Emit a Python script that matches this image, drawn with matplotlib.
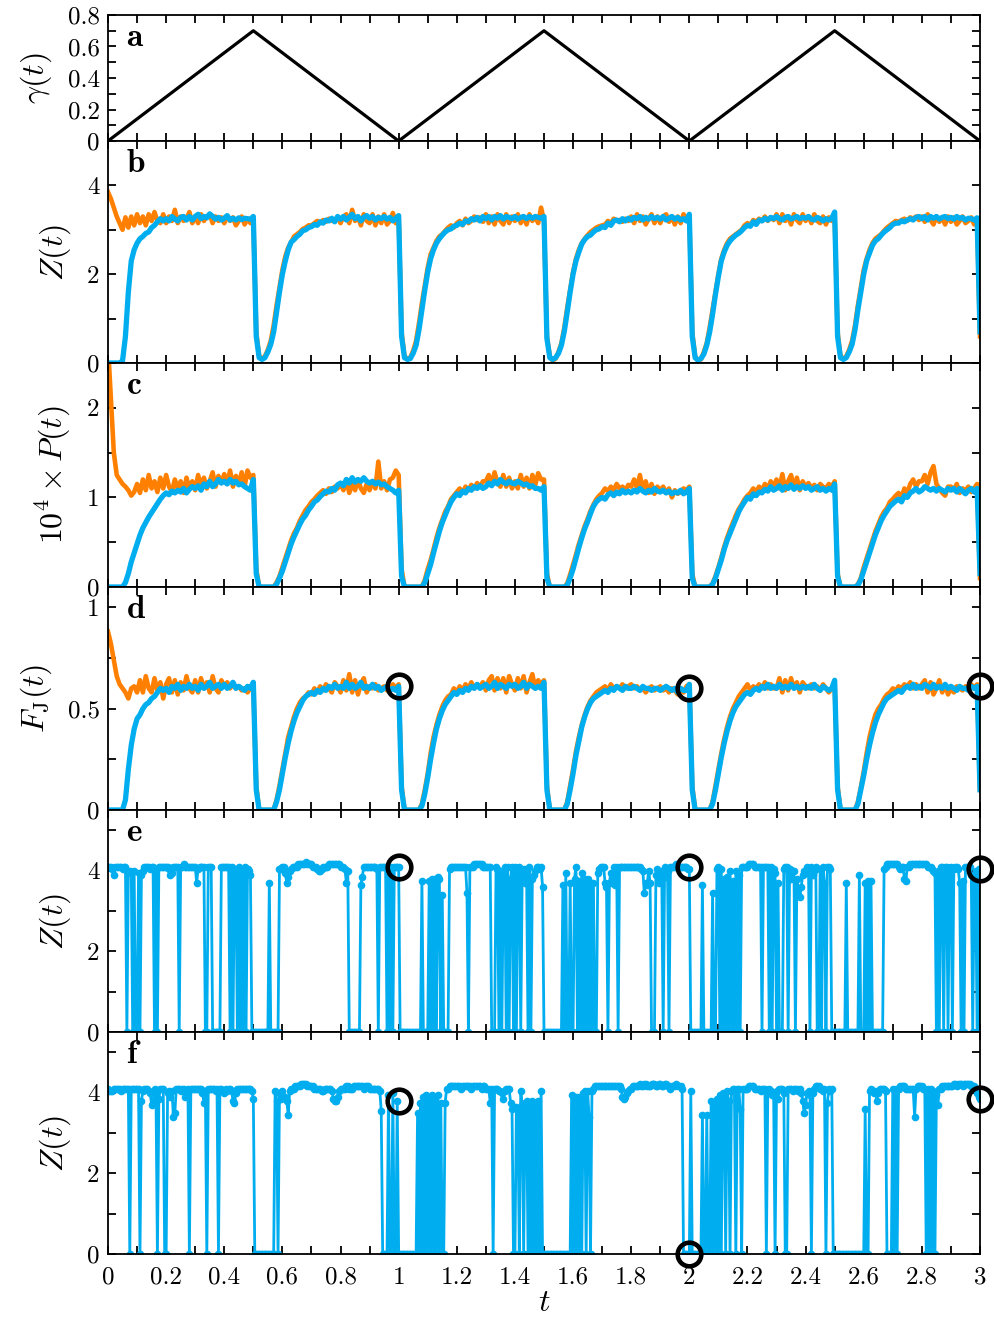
import numpy as np
import matplotlib.pyplot as plt
from matplotlib.ticker import MultipleLocator, FuncFormatter

plt.rcParams['font.family'] = 'cmr10'
plt.rcParams['mathtext.fontset'] = 'cm'
plt.rcParams['axes.formatter.use_mathtext'] = True

BLUE = '#00ADEF'
ORANGE = '#FF8000'

# Protocol gamma(t)
t_gamma = [0.0, 0.5, 1.0, 1.5, 2.0, 2.5, 3.0]
gamma = [0.0, 0.7, 0.0, 0.7, 0.0, 0.7, 0.0]

# Averaged curves, sampled every 0.01 (rows of 0.1 in t), last value at t=3
zb_blue = [
    [0, 0, 0, 0, 0, 0.05, 0.6, 1.6, 2.3, 2.55],
    [2.7, 2.8, 2.85, 2.92, 2.95, 3.05, 3.1, 3.18, 3.25, 3.2],
    [3.25, 3.2, 3.3, 3.24, 3.2, 3.28, 3.3, 3.22, 3.3, 3.22],
    [3.3, 3.35, 3.25, 3.3, 3.27, 3.36, 3.3, 3.24, 3.28, 3.22],
    [3.26, 3.32, 3.22, 3.26, 3.22, 3.27, 3.23, 3.26, 3.25, 3.24],
    [3.3, 0.6, 0.12, 0.08, 0.12, 0.25, 0.42, 0.7, 1.15, 1.6],
    [2.0, 2.3, 2.55, 2.72, 2.78, 2.85, 2.9, 2.98, 3.0, 3.05],
    [3.07, 3.12, 3.1, 3.18, 3.15, 3.22, 3.2, 3.26, 3.18, 3.3],
    [3.24, 3.3, 3.22, 3.28, 3.35, 3.25, 3.3, 3.2, 3.28, 3.32],
    [3.26, 3.3, 3.22, 3.28, 3.25, 3.3, 3.24, 3.28, 3.2, 3.26],
    [3.32, 0.6, 0.12, 0.08, 0.1, 0.22, 0.4, 0.75, 1.2, 1.65],
    [2.05, 2.35, 2.55, 2.7, 2.8, 2.88, 2.95, 3.0, 3.02, 3.08],
    [3.1, 3.15, 3.12, 3.2, 3.18, 3.25, 3.22, 3.28, 3.2, 3.3],
    [3.25, 3.3, 3.22, 3.3, 3.26, 3.32, 3.24, 3.3, 3.28, 3.25],
    [3.3, 3.24, 3.28, 3.3, 3.25, 3.3, 3.26, 3.3, 3.28, 3.26],
    [3.3, 0.55, 0.12, 0.08, 0.12, 0.22, 0.4, 0.72, 1.15, 1.6],
    [2.0, 2.3, 2.5, 2.68, 2.78, 2.85, 2.88, 2.95, 3.0, 3.02],
    [3.07, 3.05, 3.15, 3.1, 3.2, 3.22, 3.18, 3.25, 3.2, 3.26],
    [3.22, 3.28, 3.25, 3.3, 3.22, 3.28, 3.24, 3.3, 3.25, 3.28],
    [3.24, 3.3, 3.22, 3.26, 3.3, 3.24, 3.28, 3.22, 3.25, 3.2],
    [3.35, 0.6, 0.12, 0.06, 0.1, 0.2, 0.4, 0.7, 1.1, 1.55],
    [1.95, 2.3, 2.5, 2.65, 2.75, 2.82, 2.88, 2.92, 2.98, 3.05],
    [3.1, 3.08, 3.18, 3.12, 3.22, 3.2, 3.26, 3.22, 3.28, 3.25],
    [3.3, 3.25, 3.22, 3.28, 3.3, 3.24, 3.27, 3.3, 3.25, 3.28],
    [3.26, 3.3, 3.24, 3.22, 3.28, 3.25, 3.2, 3.25, 3.22, 3.26],
    [3.4, 0.6, 0.12, 0.08, 0.12, 0.25, 0.42, 0.75, 1.2, 1.6],
    [2.0, 2.3, 2.48, 2.65, 2.75, 2.8, 2.88, 2.95, 3.0, 3.05],
    [3.12, 3.15, 3.15, 3.2, 3.18, 3.22, 3.25, 3.22, 3.28, 3.3],
    [3.25, 3.3, 3.22, 3.3, 3.26, 3.3, 3.24, 3.28, 3.3, 3.25],
    [3.28, 3.24, 3.3, 3.26, 3.28, 3.22, 3.26, 3.25, 3.22, 3.27],
    [0.7],
]
zb_orange = [
    [3.85, 3.7, 3.5, 3.3, 3.15, 3.0, 3.28, 3.05, 3.3, 3.1],
    [3.35, 3.15, 3.3, 3.1, 3.35, 3.2, 3.4, 3.2, 3.15, 3.35],
    [3.15, 3.3, 3.2, 3.45, 3.15, 3.3, 3.2, 3.25, 3.4, 3.15],
    [3.3, 3.15, 3.35, 3.2, 3.3, 3.35, 3.15, 3.3, 3.2, 3.28],
    [3.15, 3.3, 3.2, 3.28, 3.1, 3.2, 3.3, 3.12, 3.25, 3.15],
    [3.25, 0.7, 0.15, 0.1, 0.15, 0.3, 0.5, 0.85, 1.3, 1.7],
    [2.1, 2.4, 2.6, 2.72, 2.85, 2.9, 2.95, 3.02, 3.05, 3.1],
    [3.1, 3.15, 3.2, 3.15, 3.22, 3.18, 3.25, 3.2, 3.22, 3.28],
    [3.15, 3.3, 3.35, 3.15, 3.45, 3.2, 3.3, 3.1, 3.35, 3.2],
    [3.15, 3.35, 3.1, 3.3, 3.15, 3.35, 3.12, 3.2, 3.38, 3.15],
    [3.3, 0.7, 0.15, 0.1, 0.12, 0.28, 0.5, 0.9, 1.35, 1.75],
    [2.15, 2.45, 2.6, 2.75, 2.85, 2.9, 2.98, 3.05, 3.1, 3.05],
    [3.15, 3.2, 3.1, 3.25, 3.15, 3.2, 3.3, 3.22, 3.28, 3.18],
    [3.35, 3.15, 3.3, 3.12, 3.35, 3.2, 3.12, 3.35, 3.15, 3.3],
    [3.2, 3.35, 3.15, 3.3, 3.12, 3.35, 3.2, 3.3, 3.15, 3.5],
    [3.2, 0.6, 0.15, 0.05, 0.1, 0.25, 0.45, 0.8, 1.25, 1.65],
    [2.05, 2.35, 2.55, 2.7, 2.8, 2.88, 2.95, 3.0, 3.05, 3.08],
    [3.1, 3.12, 3.2, 3.15, 3.25, 3.2, 3.22, 3.18, 3.25, 3.2],
    [3.3, 3.15, 3.35, 3.2, 3.3, 3.12, 3.25, 3.35, 3.15, 3.3],
    [3.15, 3.3, 3.35, 3.18, 3.3, 3.12, 3.3, 3.15, 3.35, 3.2],
    [3.3, 0.7, 0.15, 0.05, 0.08, 0.25, 0.45, 0.8, 1.2, 1.6],
    [2.0, 2.35, 2.55, 2.7, 2.8, 2.85, 2.9, 2.95, 3.0, 3.1],
    [3.15, 3.1, 3.22, 3.18, 3.25, 3.2, 3.3, 3.2, 3.28, 3.22],
    [3.35, 3.15, 3.35, 3.2, 3.3, 3.12, 3.35, 3.22, 3.15, 3.35],
    [3.2, 3.3, 3.15, 3.35, 3.2, 3.15, 3.3, 3.12, 3.28, 3.2],
    [3.3, 0.7, 0.15, 0.1, 0.15, 0.3, 0.5, 0.85, 1.3, 1.7],
    [2.1, 2.35, 2.55, 2.7, 2.8, 2.85, 2.9, 2.98, 3.05, 3.1],
    [3.15, 3.2, 3.18, 3.22, 3.25, 3.2, 3.28, 3.25, 3.3, 3.22],
    [3.3, 3.18, 3.35, 3.22, 3.12, 3.3, 3.18, 3.28, 3.12, 3.3],
    [3.18, 3.28, 3.12, 3.2, 3.3, 3.15, 3.2, 3.28, 3.12, 3.25],
    [0.6],
]

pc_blue = [
    [0, 0, 0, 0, 0, 0, 0.05, 0.15, 0.28, 0.38],
    [0.48, 0.58, 0.66, 0.72, 0.78, 0.83, 0.88, 0.93, 0.98, 1.02],
    [1.05, 1.03, 1.07, 1.05, 1.08, 1.06, 1.1, 1.05, 1.09, 1.12],
    [1.1, 1.13, 1.08, 1.15, 1.12, 1.18, 1.12, 1.15, 1.2, 1.16],
    [1.18, 1.15, 1.2, 1.16, 1.18, 1.14, 1.15, 1.12, 1.1, 1.08],
    [1.2, 0.15, 0, 0, 0, 0, 0, 0, 0.03, 0.1],
    [0.18, 0.28, 0.38, 0.48, 0.56, 0.63, 0.7, 0.76, 0.8, 0.86],
    [0.9, 0.95, 0.97, 1.01, 1.04, 1.07, 1.06, 1.1, 1.08, 1.14],
    [1.16, 1.13, 1.2, 1.16, 1.22, 1.17, 1.2, 1.18, 1.22, 1.18],
    [1.16, 1.18, 1.15, 1.17, 1.14, 1.15, 1.12, 1.1, 1.08, 1.05],
    [1.08, 0.12, 0, 0, 0, 0, 0, 0, 0, 0.05],
    [0.15, 0.25, 0.38, 0.5, 0.62, 0.72, 0.8, 0.88, 0.95, 1.0],
    [1.04, 1.02, 1.07, 1.05, 1.1, 1.08, 1.12, 1.1, 1.13, 1.1],
    [1.12, 1.16, 1.13, 1.18, 1.15, 1.2, 1.17, 1.15, 1.18, 1.16],
    [1.15, 1.18, 1.16, 1.14, 1.15, 1.12, 1.13, 1.1, 1.1, 1.08],
    [1.12, 0.1, 0, 0, 0, 0, 0, 0, 0.02, 0.1],
    [0.2, 0.32, 0.44, 0.55, 0.65, 0.73, 0.82, 0.9, 0.95, 0.98],
    [1.0, 0.98, 1.03, 1.05, 1.02, 1.06, 1.04, 1.08, 1.05, 1.07],
    [1.05, 1.08, 1.06, 1.1, 1.07, 1.05, 1.08, 1.06, 1.1, 1.07],
    [1.06, 1.08, 1.05, 1.07, 1.04, 1.06, 1.05, 1.08, 1.04, 1.06],
    [1.1, 0.1, 0, 0, 0, 0, 0, 0, 0.03, 0.1],
    [0.2, 0.3, 0.42, 0.52, 0.6, 0.68, 0.76, 0.84, 0.9, 0.95],
    [1.0, 0.98, 1.04, 1.02, 1.06, 1.05, 1.09, 1.07, 1.12, 1.08],
    [1.1, 1.13, 1.08, 1.12, 1.1, 1.14, 1.09, 1.12, 1.1, 1.13],
    [1.1, 1.12, 1.08, 1.1, 1.12, 1.08, 1.1, 1.07, 1.1, 1.08],
    [1.15, 0.12, 0, 0, 0, 0, 0, 0, 0.02, 0.08],
    [0.18, 0.28, 0.38, 0.48, 0.58, 0.66, 0.74, 0.8, 0.85, 0.9],
    [0.93, 0.96, 0.98, 0.95, 1.02, 1.0, 1.05, 1.07, 1.1, 1.06],
    [1.08, 1.12, 1.1, 1.08, 1.1, 1.07, 1.1, 1.08, 1.06, 1.1],
    [1.08, 1.1, 1.06, 1.1, 1.07, 1.04, 1.08, 1.1, 1.06, 1.1],
    [0.15],
]
pc_orange = [
    [2.7, 2.1, 1.5, 1.25, 1.2, 1.15, 1.12, 1.08, 1.02, 1.06],
    [1.15, 1.05, 1.2, 1.08, 1.25, 1.1, 1.18, 1.06, 1.22, 1.1],
    [1.25, 1.12, 1.06, 1.2, 1.1, 1.18, 1.05, 1.22, 1.1, 1.18],
    [1.08, 1.25, 1.12, 1.22, 1.1, 1.18, 1.28, 1.12, 1.24, 1.16],
    [1.26, 1.15, 1.3, 1.12, 1.24, 1.15, 1.28, 1.12, 1.3, 1.22],
    [1.25, 0.2, 0, 0, 0, 0, 0, 0, 0.05, 0.12],
    [0.22, 0.32, 0.42, 0.52, 0.6, 0.66, 0.74, 0.8, 0.86, 0.9],
    [0.95, 0.98, 1.02, 1.05, 1.08, 1.04, 1.1, 1.06, 1.12, 1.1],
    [1.15, 1.08, 1.2, 1.05, 1.15, 1.08, 1.2, 1.1, 1.05, 1.15],
    [1.08, 1.18, 1.1, 1.4, 1.1, 1.18, 1.08, 1.2, 1.22, 1.3],
    [1.25, 0.2, 0, 0, 0, 0, 0, 0, 0, 0.08],
    [0.2, 0.3, 0.42, 0.55, 0.66, 0.75, 0.84, 0.9, 0.98, 1.02],
    [1.06, 1.1, 1.05, 1.12, 1.08, 1.14, 1.1, 1.16, 1.12, 1.18],
    [1.18, 1.25, 1.14, 1.28, 1.16, 1.12, 1.25, 1.12, 1.22, 1.1],
    [1.18, 1.1, 1.25, 1.12, 1.22, 1.1, 1.25, 1.14, 1.27, 1.2],
    [1.2, 0.15, 0, 0, 0, 0, 0, 0, 0.04, 0.14],
    [0.25, 0.36, 0.48, 0.58, 0.68, 0.76, 0.85, 0.92, 0.98, 1.02],
    [1.05, 1.1, 1.07, 1.12, 1.08, 1.15, 1.1, 1.12, 1.08, 1.14],
    [1.12, 1.2, 1.1, 1.25, 1.08, 1.18, 1.05, 1.15, 1.04, 1.12],
    [1.08, 1.12, 1.05, 1.1, 1.0, 1.08, 1.04, 1.06, 1.1, 1.08],
    [1.12, 0.15, 0, 0, 0, 0, 0, 0, 0.04, 0.12],
    [0.22, 0.33, 0.45, 0.55, 0.64, 0.72, 0.8, 0.87, 0.92, 0.98],
    [1.02, 1.05, 1.1, 1.06, 1.12, 1.08, 1.15, 1.1, 1.18, 1.12],
    [1.2, 1.1, 1.26, 1.08, 1.18, 1.25, 1.1, 1.22, 1.08, 1.18],
    [1.12, 1.16, 1.1, 1.14, 1.08, 1.15, 1.12, 1.1, 1.15, 1.12],
    [1.18, 0.15, 0, 0, 0, 0, 0, 0, 0.03, 0.1],
    [0.22, 0.32, 0.42, 0.52, 0.62, 0.7, 0.78, 0.84, 0.88, 0.95],
    [0.98, 1.02, 1.05, 1.0, 1.1, 1.05, 1.15, 1.2, 1.12, 1.18],
    [1.18, 1.25, 1.15, 1.28, 1.35, 1.15, 1.1, 1.05, 1.02, 1.12],
    [1.12, 1.08, 1.15, 1.05, 1.1, 1.08, 1.12, 1.06, 1.1, 1.15],
    [0.1],
]

fd_blue = [
    [0, 0, 0, 0, 0, 0, 0.05, 0.2, 0.32, 0.4],
    [0.45, 0.47, 0.5, 0.52, 0.53, 0.55, 0.56, 0.58, 0.6, 0.59],
    [0.6, 0.58, 0.61, 0.6, 0.62, 0.59, 0.61, 0.6, 0.62, 0.6],
    [0.61, 0.59, 0.62, 0.6, 0.61, 0.63, 0.6, 0.61, 0.62, 0.6],
    [0.62, 0.6, 0.61, 0.63, 0.6, 0.61, 0.6, 0.59, 0.61, 0.6],
    [0.63, 0.1, 0, 0, 0, 0, 0, 0, 0.04, 0.1],
    [0.18, 0.26, 0.33, 0.39, 0.44, 0.48, 0.51, 0.54, 0.56, 0.57],
    [0.58, 0.57, 0.59, 0.58, 0.6, 0.59, 0.61, 0.6, 0.62, 0.6],
    [0.61, 0.6, 0.63, 0.6, 0.62, 0.6, 0.61, 0.63, 0.6, 0.61],
    [0.6, 0.62, 0.6, 0.61, 0.59, 0.6, 0.61, 0.59, 0.6, 0.59],
    [0.61, 0.1, 0, 0, 0, 0, 0, 0, 0.02, 0.08],
    [0.16, 0.25, 0.33, 0.4, 0.45, 0.49, 0.52, 0.54, 0.56, 0.58],
    [0.57, 0.59, 0.58, 0.6, 0.59, 0.61, 0.6, 0.62, 0.6, 0.61],
    [0.62, 0.6, 0.61, 0.63, 0.6, 0.62, 0.61, 0.6, 0.62, 0.61],
    [0.62, 0.6, 0.61, 0.63, 0.6, 0.62, 0.61, 0.6, 0.61, 0.6],
    [0.63, 0.1, 0, 0, 0, 0, 0, 0, 0.03, 0.1],
    [0.18, 0.27, 0.34, 0.41, 0.46, 0.5, 0.53, 0.55, 0.56, 0.57],
    [0.58, 0.59, 0.58, 0.6, 0.59, 0.61, 0.6, 0.59, 0.61, 0.6],
    [0.6, 0.61, 0.6, 0.59, 0.61, 0.6, 0.6, 0.59, 0.6, 0.6],
    [0.59, 0.6, 0.61, 0.6, 0.59, 0.6, 0.58, 0.6, 0.59, 0.59],
    [0.62, 0.1, 0, 0, 0, 0, 0, 0, 0.03, 0.1],
    [0.18, 0.26, 0.33, 0.39, 0.44, 0.48, 0.51, 0.53, 0.55, 0.57],
    [0.58, 0.57, 0.59, 0.6, 0.59, 0.61, 0.6, 0.62, 0.6, 0.61],
    [0.6, 0.62, 0.6, 0.61, 0.6, 0.62, 0.6, 0.61, 0.6, 0.61],
    [0.6, 0.61, 0.6, 0.62, 0.6, 0.59, 0.61, 0.6, 0.59, 0.6],
    [0.64, 0.1, 0, 0, 0, 0, 0, 0, 0.03, 0.1],
    [0.17, 0.25, 0.32, 0.38, 0.43, 0.47, 0.5, 0.53, 0.55, 0.56],
    [0.57, 0.58, 0.59, 0.58, 0.6, 0.61, 0.6, 0.62, 0.6, 0.61],
    [0.6, 0.62, 0.61, 0.6, 0.62, 0.6, 0.61, 0.6, 0.62, 0.6],
    [0.61, 0.6, 0.59, 0.61, 0.6, 0.6, 0.59, 0.61, 0.6, 0.61],
    [0.1],
]
fd_orange = [
    [0.88, 0.82, 0.74, 0.66, 0.62, 0.6, 0.58, 0.55, 0.6, 0.61],
    [0.58, 0.64, 0.58, 0.66, 0.6, 0.58, 0.65, 0.59, 0.63, 0.55],
    [0.62, 0.65, 0.58, 0.64, 0.57, 0.63, 0.59, 0.66, 0.6, 0.58],
    [0.64, 0.58, 0.65, 0.6, 0.63, 0.58, 0.66, 0.6, 0.58, 0.64],
    [0.61, 0.63, 0.6, 0.62, 0.6, 0.61, 0.59, 0.6, 0.58, 0.6],
    [0.62, 0.12, 0, 0, 0, 0, 0, 0, 0.05, 0.12],
    [0.2, 0.28, 0.36, 0.41, 0.46, 0.5, 0.53, 0.55, 0.56, 0.58],
    [0.57, 0.6, 0.58, 0.61, 0.59, 0.62, 0.6, 0.58, 0.63, 0.61],
    [0.58, 0.64, 0.59, 0.67, 0.58, 0.64, 0.57, 0.62, 0.65, 0.58],
    [0.61, 0.6, 0.62, 0.59, 0.6, 0.61, 0.59, 0.6, 0.62, 0.6],
    [0.62, 0.12, 0, 0, 0, 0, 0, 0, 0.03, 0.1],
    [0.18, 0.28, 0.36, 0.42, 0.47, 0.51, 0.54, 0.56, 0.57, 0.6],
    [0.58, 0.61, 0.59, 0.62, 0.6, 0.63, 0.6, 0.62, 0.61, 0.63],
    [0.59, 0.64, 0.66, 0.59, 0.65, 0.6, 0.65, 0.58, 0.66, 0.62],
    [0.59, 0.65, 0.6, 0.66, 0.58, 0.63, 0.67, 0.6, 0.64, 0.62],
    [0.64, 0.12, 0, 0, 0, 0, 0, 0, 0.04, 0.12],
    [0.2, 0.29, 0.36, 0.42, 0.47, 0.51, 0.54, 0.56, 0.58, 0.59],
    [0.6, 0.61, 0.59, 0.62, 0.6, 0.61, 0.6, 0.62, 0.6, 0.61],
    [0.62, 0.6, 0.61, 0.59, 0.6, 0.58, 0.6, 0.61, 0.59, 0.6],
    [0.61, 0.59, 0.6, 0.58, 0.6, 0.59, 0.57, 0.6, 0.58, 0.61],
    [0.62, 0.12, 0, 0, 0, 0, 0, 0, 0.04, 0.12],
    [0.2, 0.28, 0.35, 0.41, 0.46, 0.5, 0.53, 0.56, 0.58, 0.6],
    [0.62, 0.59, 0.61, 0.6, 0.62, 0.6, 0.63, 0.6, 0.62, 0.6],
    [0.6, 0.65, 0.58, 0.64, 0.59, 0.65, 0.6, 0.63, 0.58, 0.63],
    [0.61, 0.6, 0.62, 0.6, 0.61, 0.59, 0.62, 0.6, 0.58, 0.6],
    [0.62, 0.12, 0, 0, 0, 0, 0, 0, 0.04, 0.11],
    [0.19, 0.28, 0.36, 0.42, 0.47, 0.5, 0.52, 0.55, 0.57, 0.58],
    [0.6, 0.59, 0.61, 0.6, 0.62, 0.61, 0.63, 0.6, 0.62, 0.6],
    [0.62, 0.64, 0.58, 0.63, 0.57, 0.6, 0.64, 0.58, 0.62, 0.57],
    [0.6, 0.58, 0.61, 0.6, 0.59, 0.61, 0.6, 0.62, 0.6, 0.62],
    [0.1],
]

# Single trajectories, sampled every 0.005 (rows of 0.1 in t), last value at t=3
ze_single = [
    [4.1, 4.1, 4.1, 4.05, 3.9, 4.1, 4.1, 4.1, 4.1, 4.1, 4.05, 4.1, 4.1, 0, 4.0, 4.0, 3.95, 0, 4.0, 0],
    [0, 3.95, 0, 3.9, 4.0, 4.1, 4.1, 4.1, 4.1, 4.05, 4.1, 4.1, 0, 4.05, 0, 4.1, 4.1, 4.1, 4.1, 4.1],
    [4.1, 4.1, 4.05, 3.9, 3.95, 4.1, 4.1, 4.1, 4.1, 0, 4.1, 4.1, 4.15, 4.1, 4.1, 4.1, 4.1, 4.1, 4.1, 4.1],
    [4.1, 3.7, 4.05, 4.1, 4.1, 4.1, 4.1, 0, 0, 4.1, 4.1, 4.1, 0, 0, 0, 0, 0, 0, 4.1, 4.1],
    [4.1, 4.1, 4.1, 4.1, 0, 4.1, 0, 4.05, 4.0, 0, 4.1, 0, 4.0, 0, 4.1, 0, 4.05, 4.0, 3.9, 0],
    [0, 0, 0, 0, 0, 0, 0, 0, 0, 0, 0, 3.7, 0, 0, 0, 0, 0, 0, 4.05, 4.05],
    [4.1, 4.1, 3.95, 3.7, 3.85, 4.0, 4.05, 4.1, 4.1, 4.1, 4.1, 4.15, 4.15, 4.15, 4.15, 4.15, 4.2, 4.15, 4.15, 4.15],
    [4.15, 4.1, 4.1, 4.1, 4.05, 4.0, 4.0, 4.05, 4.1, 4.1, 4.1, 4.1, 4.15, 4.15, 4.15, 4.15, 4.15, 4.15, 4.15, 4.15],
    [4.1, 4.1, 4.1, 4.05, 3.7, 4.0, 0, 0, 0, 0, 0, 0, 0, 0, 3.65, 3.85, 4.1, 4.1, 4.1, 4.1],
    [4.1, 4.1, 4.1, 4.1, 4.1, 4.05, 0, 4.1, 4.1, 4.1, 4.1, 4.1, 0, 4.1, 0, 4.1, 0, 4.1, 4.1, 4.1],
    [4.1, 0, 0, 0, 0, 0, 0, 0, 0, 0, 0, 0, 0, 0, 0, 0, 3.75, 0, 0, 0],
    [0, 3.75, 0, 3.8, 0, 3.8, 0, 3.85, 3.8, 0, 3.4, 0, 0, 0, 0, 4.05, 4.1, 4.1, 4.1, 4.1],
    [4.1, 4.1, 4.1, 4.1, 4.1, 4.1, 4.1, 3.45, 0, 4.1, 4.1, 4.1, 4.15, 4.15, 4.15, 4.15, 4.15, 4.15, 4.1, 4.1],
    [4.1, 4.1, 4.1, 4.1, 0, 0, 0, 4.1, 4.05, 0, 4.0, 0, 3.9, 4.1, 0, 4.1, 0, 3.8, 4.1, 0],
    [4.1, 0, 4.0, 4.1, 0, 3.9, 4.05, 3.7, 4.0, 0, 4.1, 0, 3.8, 3.9, 4.0, 4.1, 4.1, 4.05, 4.1, 3.6],
    [0, 0, 0, 0, 0, 0, 0, 0, 0, 0, 0, 0, 0, 3.65, 0, 3.95, 0, 0, 3.7, 0],
    [0, 3.8, 4.1, 0, 3.75, 0, 3.95, 0, 3.8, 0, 3.8, 0, 3.7, 0, 3.7, 0, 0, 3.95, 4.05, 4.1],
    [4.1, 4.1, 3.7, 3.6, 0, 3.7, 3.95, 3.7, 4.1, 3.65, 4.1, 0, 4.1, 4.1, 4.1, 4.1, 4.1, 4.1, 4.1, 4.1],
    [4.1, 4.1, 4.1, 4.1, 4.1, 4.1, 4.1, 4.05, 4.0, 3.45, 3.7, 3.65, 4.0, 3.7, 0, 0, 0, 3.9, 4.05, 3.7],
    [3.8, 4.0, 0, 4.1, 3.85, 4.0, 0, 4.1, 4.1, 4.1, 4.1, 4.15, 4.1, 4.1, 4.1, 4.1, 4.1, 4.1, 4.1, 4.05],
    [4.05, 0, 0, 0, 0, 0, 0, 0, 0, 3.65, 0, 0, 0, 0, 0, 0, 3.45, 0, 0, 4.05],
    [4.1, 0, 4.05, 0, 3.8, 0, 3.85, 0, 4.0, 0, 3.75, 0, 4.0, 0, 3.9, 0, 4.1, 4.1, 4.1, 4.1],
    [4.1, 4.15, 4.15, 4.15, 4.15, 4.1, 4.1, 4.1, 4.1, 4.1, 0, 4.1, 4.1, 4.1, 4.1, 0, 4.1, 0, 4.05, 3.95],
    [0, 3.7, 0, 0, 0, 4.05, 4.1, 4.1, 0, 4.05, 3.8, 4.0, 4.0, 0, 3.8, 3.4, 3.35, 3.6, 3.9, 4.0],
    [3.95, 4.1, 4.05, 0, 4.1, 3.9, 4.0, 4.1, 0, 0, 4.05, 0, 4.1, 3.7, 0, 4.1, 4.1, 4.05, 0, 0],
    [0, 0, 0, 0, 0, 0, 0, 0, 3.7, 0, 0, 0, 0, 0, 0, 0, 0, 3.9, 0, 0],
    [0, 3.7, 0, 3.75, 0, 3.75, 0, 0, 0, 0, 0, 0, 0, 0, 4.05, 4.1, 4.15, 4.15, 4.15, 4.15],
    [4.15, 4.15, 4.15, 4.15, 4.1, 4.05, 4.1, 4.1, 3.8, 3.75, 4.1, 4.1, 4.15, 4.15, 4.15, 4.15, 4.15, 4.15, 4.15, 4.15],
    [4.15, 4.15, 4.15, 4.15, 4.1, 4.1, 4.1, 4.05, 4.0, 3.95, 0, 4.0, 0, 4.1, 4.1, 0, 4.1, 4.1, 0, 4.05],
    [4.1, 0, 4.05, 4.1, 4.1, 4.05, 3.7, 0, 3.75, 0, 4.1, 4.1, 4.1, 4.1, 3.9, 0, 3.8, 4.0, 0, 4.05],
    [0],
]
zf_single = [
    [4.1, 4.05, 4.05, 4.05, 4.1, 4.1, 4.1, 4.1, 4.1, 4.05, 4.1, 4.1, 4.1, 4.1, 4.1, 0, 4.1, 4.1, 4.1, 4.1],
    [4.1, 4.1, 0, 3.8, 4.05, 4.1, 4.1, 4.1, 4.05, 4.0, 3.7, 3.75, 4.1, 4.0, 0, 3.85, 4.1, 4.1, 4.1, 0],
    [0, 4.0, 4.05, 3.9, 4.05, 3.4, 3.5, 4.1, 4.1, 4.1, 4.05, 4.1, 4.1, 3.9, 4.05, 4.1, 0, 4.1, 4.1, 4.1],
    [4.1, 4.1, 4.1, 4.1, 4.1, 4.0, 3.75, 4.0, 0, 4.1, 4.1, 4.1, 4.1, 4.1, 4.05, 4.1, 0, 4.1, 4.1, 4.05],
    [4.0, 4.1, 4.05, 4.1, 4.1, 4.05, 3.8, 3.75, 4.0, 4.1, 4.1, 4.1, 4.1, 4.1, 4.1, 4.1, 4.1, 4.1, 4.1, 4.05],
    [3.85, 0, 0, 0, 0, 0, 0, 0, 0, 0, 0, 0, 0, 0, 0, 4.05, 3.8, 0, 4.0, 3.85],
    [4.05, 3.9, 3.9, 3.8, 3.45, 4.05, 4.1, 4.1, 4.1, 4.15, 4.15, 4.15, 4.15, 4.2, 4.2, 4.2, 4.2, 4.15, 4.15, 4.15],
    [4.15, 4.15, 4.1, 4.1, 4.1, 4.1, 4.1, 4.05, 4.05, 4.1, 4.1, 4.1, 4.1, 4.1, 4.05, 3.85, 3.8, 3.8, 3.9, 4.05],
    [4.1, 4.1, 4.1, 4.1, 4.15, 4.15, 4.1, 4.1, 4.1, 4.15, 4.15, 4.15, 4.15, 4.15, 4.15, 4.15, 4.1, 4.15, 4.15, 4.15],
    [4.1, 4.1, 4.1, 4.1, 4.1, 4.1, 4.1, 4.05, 3.55, 0, 0, 0, 0, 3.95, 0, 0, 4.0, 0, 0, 3.8],
    [0, 0, 0, 0, 0, 0, 0, 0, 0, 0, 0, 0, 0, 3.5, 0, 3.75, 0, 3.9, 0, 3.95],
    [0, 3.9, 0, 3.95, 0, 3.9, 0, 3.95, 0, 3.75, 0, 0, 3.75, 4.1, 4.1, 4.15, 4.15, 4.15, 4.15, 4.15],
    [4.15, 4.15, 4.15, 4.1, 4.15, 4.15, 4.15, 4.15, 4.15, 4.15, 4.1, 4.15, 4.15, 4.15, 4.15, 4.15, 4.15, 4.1, 4.15, 4.15],
    [4.1, 4.1, 4.1, 3.75, 4.1, 0, 4.1, 4.1, 4.1, 4.05, 4.05, 4.0, 3.85, 4.05, 4.1, 4.1, 4.1, 3.75, 3.6, 0],
    [0, 3.65, 3.6, 0, 4.05, 3.7, 0, 3.75, 3.8, 0, 3.75, 0, 3.8, 0, 3.75, 0, 3.8, 0, 4.05, 0],
    [0, 0, 0, 0, 0, 0, 0, 0, 0, 0, 0, 0, 0, 0, 0, 0, 0, 0, 0, 3.95],
    [0, 3.9, 0, 3.9, 0, 3.9, 0, 4.0, 4.05, 0, 4.05, 3.4, 0, 4.05, 4.1, 4.15, 4.15, 4.15, 4.15, 4.15],
    [4.15, 4.15, 4.15, 4.15, 4.15, 4.15, 4.15, 4.15, 4.15, 4.15, 4.15, 4.15, 4.15, 4.1, 3.9, 3.85, 3.9, 4.0, 4.05, 4.1],
    [4.1, 4.15, 4.15, 4.15, 4.15, 4.15, 4.2, 4.15, 4.15, 4.2, 4.2, 4.15, 4.15, 4.15, 4.2, 4.2, 4.2, 4.15, 4.15, 4.2],
    [4.2, 4.15, 4.15, 4.2, 4.2, 4.15, 4.15, 4.1, 4.15, 4.15, 4.15, 4.2, 4.15, 4.15, 4.15, 4.1, 0, 0, 0, 0],
    [0, 4.05, 0, 0, 0, 0, 0, 0, 0, 3.45, 0, 0, 3.45, 0, 0, 3.8, 0, 3.75, 0, 3.85],
    [0, 3.95, 0, 4.0, 3.9, 0, 4.05, 3.8, 0, 4.05, 4.1, 4.1, 0, 4.1, 4.1, 3.6, 0, 4.1, 4.1, 4.1],
    [4.1, 4.15, 4.15, 4.15, 4.15, 4.1, 4.1, 4.1, 4.1, 4.05, 4.1, 4.1, 4.1, 0, 4.05, 4.1, 4.05, 3.95, 4.0, 0],
    [4.05, 3.85, 4.1, 4.1, 4.1, 4.0, 0, 0, 4.1, 4.1, 4.1, 4.05, 4.1, 4.1, 4.1, 4.05, 4.1, 4.0, 3.8, 3.5],
    [3.7, 4.0, 4.05, 3.95, 0, 4.0, 4.1, 4.15, 4.15, 4.15, 4.1, 4.1, 4.05, 4.1, 0, 3.75, 4.1, 4.05, 4.1, 0],
    [0, 0, 0, 0, 0, 0, 0, 0, 0, 0, 0, 0, 0, 0, 0, 0, 0, 0, 0, 0],
    [0, 3.6, 0, 0, 4.05, 4.1, 4.05, 4.0, 4.05, 3.8, 4.0, 4.1, 4.1, 4.1, 4.1, 4.05, 0, 0, 0, 0],
    [4.1, 0, 4.1, 0, 4.1, 4.15, 4.15, 4.15, 4.15, 4.1, 4.1, 4.1, 4.1, 4.1, 4.1, 3.4, 4.1, 4.15, 4.15, 4.15],
    [4.15, 4.1, 4.1, 0, 4.1, 0, 4.1, 0, 4.05, 0, 3.95, 3.7, 4.1, 4.1, 4.15, 4.15, 4.15, 4.15, 4.15, 4.15],
    [4.15, 4.15, 4.2, 4.2, 4.15, 4.2, 4.2, 4.2, 4.15, 4.2, 4.2, 4.2, 4.2, 4.2, 4.15, 4.15, 4.15, 4.1, 4.0, 3.9],
    [3.85],
]

# Highlighted states (black circles)
circ_t = [1.0, 2.0, 3.0]
circ_d = [0.61, 0.6, 0.61]
circ_e = [4.1, 4.1, 4.05]
circ_f = [3.8, 0.0, 3.85]


def flat(rows):
    return np.concatenate([np.asarray(r, dtype=float) for r in rows])


zb_b, zb_o = flat(zb_blue), flat(zb_orange)
pc_b, pc_o = flat(pc_blue), flat(pc_orange)
fd_b, fd_o = flat(fd_blue), flat(fd_orange)
ze, zf = flat(ze_single), flat(zf_single)

t_avg = np.linspace(0, 3, len(zb_b))
t_traj = np.linspace(0, 3, len(ze))

fig = plt.figure(figsize=(9.95, 13.25), dpi=100)
W, H = 995.0, 1325.0
rows_px = [(15, 141), (141, 363), (363, 587), (587, 810), (810, 1032), (1032, 1254)]
axes = [fig.add_axes([108 / W, 1 - b / H, 872 / W, (b - t) / H]) for t, b in rows_px]
ax_a, ax_b, ax_c, ax_d, ax_e, ax_f = axes

fmt = FuncFormatter(lambda v, p: f'{v:g}')
circ_style = dict(ms=17, mfc='none', mec='k', mew=3.3, clip_on=False, zorder=5)

ax_a.plot(t_gamma, gamma, color='k', lw=2.3)

ax_b.plot(t_avg, zb_o, color=ORANGE, lw=3.3)
ax_b.plot(t_avg, zb_b, color=BLUE, lw=3.8)

ax_c.plot(t_avg, pc_o, color=ORANGE, lw=3.3)
ax_c.plot(t_avg, pc_b, color=BLUE, lw=3.8)

ax_d.plot(t_avg, fd_o, color=ORANGE, lw=3.3)
ax_d.plot(t_avg, fd_b, color=BLUE, lw=3.8)
ax_d.plot(circ_t, circ_d, 'o', **circ_style)

ax_e.plot(t_traj, ze, '-o', color=BLUE, lw=2.0, ms=5.5, mew=0)
ax_e.plot(circ_t, circ_e, 'o', **circ_style)

ax_f.plot(t_traj, zf, '-o', color=BLUE, lw=2.0, ms=5.5, mew=0)
ax_f.plot(circ_t, circ_f, 'o', **circ_style)

# y ranges and ticks
ylims = [(0, 0.8), (0, 5), (0, 2.5), (0, 1.1), (0, 5.5), (0, 5.5)]
ymaj = [0.2, 2, 1, 0.5, 2, 2]
ymin = [0.1, 1, 0.5, 0.25, 1, 1]
ylabels = [r'$\gamma(t)$', r'$Z(t)$', r'$10^4\times P(t)$', r'$F_{\rm J}(t)$', r'$Z(t)$', r'$Z(t)$']
letters = ['a', 'b', 'c', 'd', 'e', 'f']

for ax, yl, mj, mn, lab, let in zip(axes, ylims, ymaj, ymin, ylabels, letters):
    ax.set_xlim(0, 3)
    ax.set_ylim(*yl)
    ax.xaxis.set_major_locator(MultipleLocator(0.2))
    ax.xaxis.set_minor_locator(MultipleLocator(0.1))
    ax.yaxis.set_major_locator(MultipleLocator(mj))
    ax.yaxis.set_minor_locator(MultipleLocator(mn))
    ax.xaxis.set_major_formatter(fmt)
    ax.yaxis.set_major_formatter(fmt)
    ax.tick_params(which='both', direction='in', top=True, right=True,
                   length=6, width=1.3, labelsize=18, pad=6)
    ax.tick_params(axis='x', labelbottom=False)
    for s in ax.spines.values():
        s.set_linewidth(1.3)
    ax.set_ylabel(lab, fontsize=23, labelpad=10)
    ax.annotate(r'$\mathbf{' + let + '}$', xy=(0, 1), xycoords='axes fraction',
                xytext=(13, -22.5), textcoords='offset points',
                fontsize=24, ha='left', va='baseline')

ax_f.tick_params(axis='x', labelbottom=True, pad=9)
ax_f.set_xlabel(r'$t$', fontsize=23, labelpad=1)

fig.savefig('out.png', dpi=100)
